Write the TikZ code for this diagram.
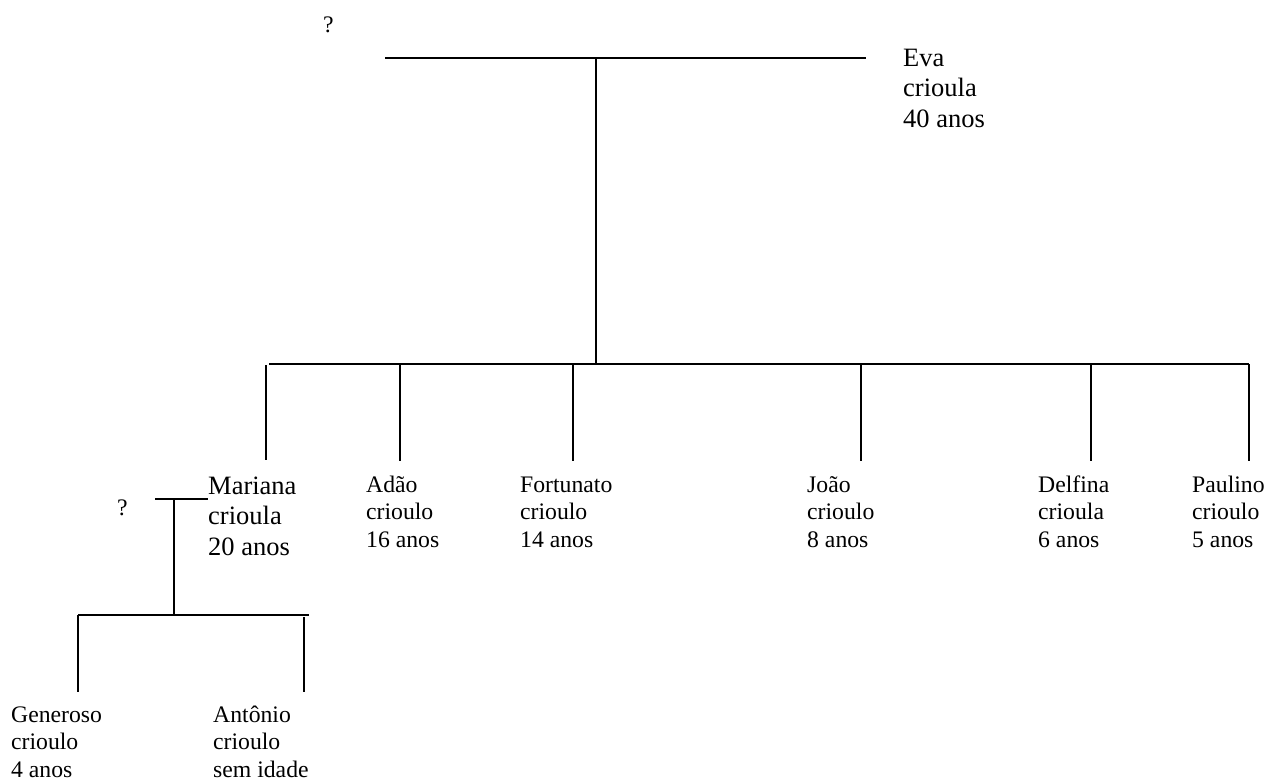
\documentclass[tikz,border=0pt]{standalone}
\usepackage{fontspec}
\setmainfont{Liberation Serif}
\begin{document}
\begin{tikzpicture}[x=1pt,y=-1pt,
  link/.style={line width=1.8pt},
  bigname/.style={anchor=base west,inner sep=0pt,align=left,font=\fontsize{26.5}{30.5}\selectfont},
  smallname/.style={anchor=base west,inner sep=0pt,align=left,font=\fontsize{23.7}{27.3}\selectfont}]
\useasboundingbox (0,0) rectangle (1268,780);

% people (each node is placed at the baseline of its last line)
\node[smallname] (unk1) at (323,32) {?};
\node[bigname] (eva) at (903,127) {Eva\\crioula\\40 anos};
\node[bigname] (mariana) at (208,555) {Mariana\\crioula\\20 anos};
\node[smallname] (adao) at (366,547) {Adão\\crioulo\\16 anos};
\node[smallname] (fortunato) at (520,547) {Fortunato\\crioulo\\14 anos};
\node[smallname] (joao) at (807,547) {João\\crioulo\\8 anos};
\node[smallname] (delfina) at (1038,547) {Delfina\\crioula\\6 anos};
\node[smallname] (paulino) at (1192,547) {Paulino\\crioulo\\5 anos};
\node[smallname] (unk2) at (117,515) {?};
\node[smallname] (generoso) at (11,777) {Generoso\\crioulo\\4 anos};
\node[smallname] (antonio) at (213,777) {Antônio\\crioulo\\sem idade};

% first couple and their children
\coordinate (coupleL) at (385,58);
\coordinate (coupleR) at (866,58);
\coordinate (coupleJ) at (596,58);
\coordinate (sibJ) at (596,364);
\coordinate (sibL) at (269,364);
\coordinate (sibR) at (1249,364);
\draw[link] (coupleL) -- (coupleR);
\draw[link] (coupleJ) -- (sibJ);
\draw[link] (sibL) -- (sibR);

\coordinate (dMar) at (266,365);
\coordinate (eMar) at (266,460);
\draw[link] (dMar) -- (eMar);
\foreach \n/\x in {Ada/400,For/573,Joa/861,Del/1091,Pau/1249}{
  \coordinate (d\n) at (\x,364);
  \coordinate (e\n) at (\x,461);
  \draw[link] (d\n) -- (e\n);
}

% second couple and their children
\coordinate (c2L) at (155,499);
\coordinate (c2R) at (208,499);
\coordinate (c2J) at (174,499);
\coordinate (g2J) at (174,615);
\coordinate (g2L) at (78,615);
\coordinate (g2R) at (309,615);
\draw[link] (c2L) -- (c2R);
\draw[link] (c2J) -- (g2J);
\draw[link] (g2L) -- (g2R);
\coordinate (dGen) at (78,615);
\coordinate (eGen) at (78,692);
\coordinate (dAnt) at (304,617);
\coordinate (eAnt) at (304,692);
\draw[link] (dGen) -- (eGen);
\draw[link] (dAnt) -- (eAnt);
\end{tikzpicture}
\end{document}
